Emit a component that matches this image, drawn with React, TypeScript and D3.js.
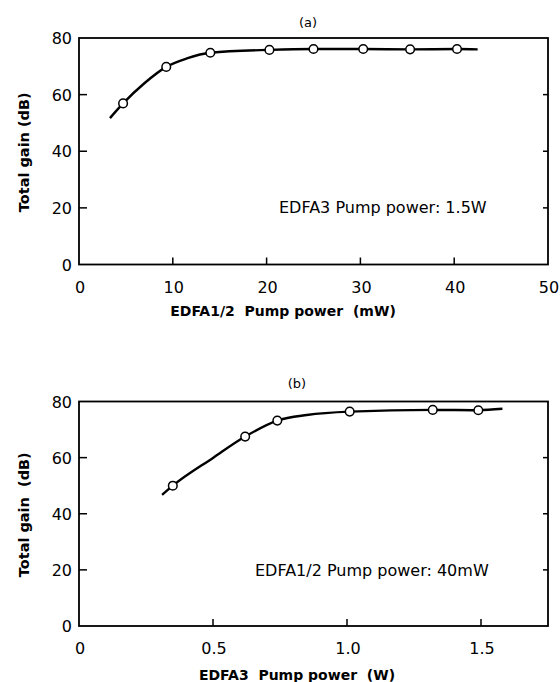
import React from 'react';
import * as d3 from 'd3';

// panel (a): gain vs EDFA1/2 pump power (mW)
const pumpA = [4.7, 9.3, 14, 20.3, 25, 30.3, 35.3, 40.3];
const gainA = [56.9, 69.8, 74.8, 75.8, 76.1, 76.1, 76.0, 76.1];
// fitted curve
const fitPumpA = [3.3, 4.7, 7, 9.3, 11.5, 14, 20.3, 25, 30.3, 35.3, 40.3, 42.5];
const fitGainA = [51.7, 56.9, 64.1, 69.8, 72.8, 74.8, 75.8, 76.1, 76.1, 76.0, 76.1, 76.0];
const xTicksA = [0, 10, 20, 30, 40, 50];

// panel (b): gain vs EDFA3 pump power (W)
const pumpB = [0.35, 0.62, 0.74, 1.01, 1.32, 1.49];
const gainB = [50.0, 67.5, 73.2, 76.4, 77.0, 76.9];
const fitPumpB = [0.31, 0.35, 0.5, 0.62, 0.74, 0.85, 1.01, 1.32, 1.49, 1.58];
const fitGainB = [46.7, 50.0, 59.9, 67.5, 73.2, 75.2, 76.4, 77.0, 76.9, 77.4];
const xTicksB = [0, 0.5, 1.0, 1.5];

const yTicks = [0, 20, 40, 60, 80];

const font = 'DejaVu Sans, Liberation Sans, sans-serif';

type PanelProps = {
  top: number;
  bottom: number;
  xMax: number;
  xTicks: number[];
  xFmt: (d: number) => string;
  px: number[];
  py: number[];
  fx: number[];
  fy: number[];
  tag: string;
  tagX: number;
  tagY: number;
  xTitle: string;
  xTitleX: number;
  xTitleY: number;
  yTitle: string;
  note: string;
  noteX: number;
  noteY: number;
};

function Panel(p: PanelProps) {
  const left = 79;
  const right = 548;
  const x = d3.scaleLinear().domain([0, p.xMax]).range([left, right]);
  const y = d3.scaleLinear().domain([0, 80]).range([p.bottom, p.top]);

  const line = d3.line<number>()
    .x((d) => x(d))
    .y((d, i) => y(p.fy[i]))
    .curve(d3.curveMonotoneX);

  const inner = (v: number) => v > 0 && v < 80;

  return (
    <g>
      <rect x={left} y={p.top} width={right - left} height={p.bottom - p.top}
        fill="none" stroke="#000" strokeWidth={1.8} />

      {/* y ticks, inward on both sides */}
      {yTicks.filter(inner).map((t) => (
        <g key={'y' + t}>
          <line x1={left} x2={left + 8} y1={y(t)} y2={y(t)} stroke="#000" strokeWidth={1.5} />
          <line x1={right - 5} x2={right} y1={y(t)} y2={y(t)} stroke="#000" strokeWidth={1.5} />
        </g>
      ))}
      {yTicks.map((t) => (
        <text key={'yl' + t} x={left - 7} y={y(t) + 6} textAnchor="end"
          fontFamily={font} fontSize={16}>{t}</text>
      ))}

      {/* x ticks */}
      {p.xTicks.filter((t) => t > 0 && t < p.xMax).map((t) => (
        <line key={'x' + t} x1={x(t)} x2={x(t)} y1={p.bottom} y2={p.bottom - 7}
          stroke="#000" strokeWidth={1.5} />
      ))}
      {p.xTicks.map((t) => (
        <text key={'xl' + t} x={x(t) + 1} y={p.bottom + 28} textAnchor="middle"
          fontFamily={font} fontSize={16}>{p.xFmt(t)}</text>
      ))}

      <path d={line(p.fx) || ''} fill="none" stroke="#000" strokeWidth={2.4} />
      {p.px.map((v, i) => (
        <circle key={'c' + i} cx={x(v)} cy={y(p.py[i])} r={4.3}
          fill="#fff" stroke="#000" strokeWidth={1.5} />
      ))}

      <text x={p.tagX} y={p.tagY} textAnchor="middle" fontFamily={font} fontSize={13}>{p.tag}</text>
      <text x={p.noteX} y={p.noteY} fontFamily={font} fontSize={16}>{p.note}</text>
      <text x={p.xTitleX} y={p.xTitleY} textAnchor="middle" fontFamily={font}
        fontSize={14} fontWeight="bold" style={{ whiteSpace: 'pre' }}>{p.xTitle}</text>
      <text transform={`translate(28.5, ${(p.top + p.bottom) / 2 + 1}) rotate(-90)`}
        textAnchor="middle" fontFamily={font} fontSize={14.5} fontWeight="bold"
        style={{ whiteSpace: 'pre' }}>{p.yTitle}</text>
    </g>
  );
}

export default function App() {
  return (
    <svg width={560} height={682} style={{ position: 'absolute', left: 0, top: 0, background: '#fff' }}>
      <rect width={560} height={682} fill="#fff" />
      <Panel top={38} bottom={264.5} xMax={50} xTicks={xTicksA} xFmt={(d) => String(d)}
        px={pumpA} py={gainA} fx={fitPumpA} fy={fitGainA}
        tag="(a)" tagX={308} tagY={27}
        xTitle="EDFA1/2  Pump power  (mW)" xTitleX={283} xTitleY={316}
        yTitle="Total gain (dB)"
        note="EDFA3 Pump power: 1.5W" noteX={279} noteY={213} />
      <Panel top={401.5} bottom={626} xMax={1.75} xTicks={xTicksB}
        xFmt={(d) => (d === 0 ? '0' : d.toFixed(1))}
        px={pumpB} py={gainB} fx={fitPumpB} fy={fitGainB}
        tag="(b)" tagX={297} tagY={388}
        xTitle="EDFA3  Pump power  (W)" xTitleX={297} xTitleY={680}
        yTitle="Total gain  (dB)"
        note="EDFA1/2 Pump power: 40mW" noteX={255} noteY={576} />
    </svg>
  );
}
